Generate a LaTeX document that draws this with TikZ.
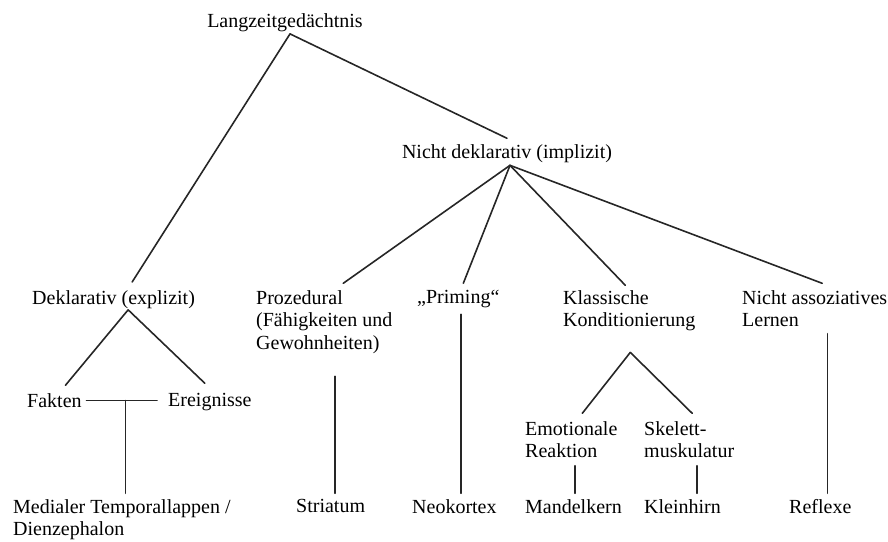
\documentclass[tikz,border=0pt]{standalone}
\usepackage{fontspec}
\setmainfont{Liberation Serif}

\begin{document}
\begin{tikzpicture}[x=1pt, y=-1pt,
    lbl/.style={font=\fontsize{20}{22.5}\selectfont, inner sep=0pt, anchor=north west, align=left},
    lnk/.style={line width=1.6pt, line cap=round, black!85}]
    \useasboundingbox (0,0) rectangle (888,541);

    % Top levels
    \node[lbl, anchor=north] (lang) at (285,13.3) {Langzeitgedächtnis};
    \node[lbl, anchor=north] (nd) at (507,144.3) {Nicht deklarativ (implizit)};

    % Second row
    \node[lbl] (dekl) at (32,290.3) {Deklarativ (explizit)};
    \node[lbl] (proz) at (256,290.3) {Prozedural\\(Fähigkeiten und\\Gewohnheiten)};
    \node[lbl] (prim) at (417,290.3) {„Priming“};
    \node[lbl] (klass) at (563,290.3) {Klassische\\Konditionierung};
    \node[lbl] (nass) at (742,290.3) {Nicht assoziatives\\Lernen};

    % Third row
    \node[lbl] (fakten) at (27,393.3) {Fakten};
    \node[lbl] (ereig) at (168,393.3) {Ereignisse};
    \node[lbl] (emot) at (525,421.3) {Emotionale\\Reaktion};
    \node[lbl] (skel) at (644,421.3) {Skelett-\\muskulatur};

    % Brain regions
    \node[lbl] (medial) at (13,499.3) {Medialer Temporallappen /\\Dienzephalon};
    \node[lbl] (striat) at (296,499.3) {Striatum};
    \node[lbl] (neok) at (412,499.3) {Neokortex};
    \node[lbl] (mandel) at (525,499.3) {Mandelkern};
    \node[lbl] (klein) at (644,499.3) {Kleinhirn};
    \node[lbl] (refl) at (789,499.3) {Reflexe};

    % Branches
    \coordinate (lang-foot) at ([xshift=5pt,yshift=-2pt]lang.south);
    \draw[lnk] (lang-foot) -- ([xshift=18.6pt,yshift=8.3pt]dekl.north);
    \draw[lnk] (lang-foot) -- ([yshift=6pt]nd.north);

    \coordinate (dekl-foot) at ([xshift=14.6pt,yshift=-1pt]dekl.south);
    \draw[lnk] (dekl-foot) -- ([xshift=11pt,yshift=8pt]fakten.north);
    \draw[lnk] (dekl-foot) -- ([xshift=-5pt,yshift=10pt]ereig.north);

    \coordinate (nd-foot) at ([xshift=3pt,yshift=-2.5pt]nd.south);
    \draw[lnk] (nd-foot) -- ([xshift=19pt,yshift=7pt]proz.north);
    \draw[lnk] (nd-foot) -- ([xshift=5pt,yshift=7pt]prim.north);
    \draw[lnk] (nd-foot) -- ([xshift=-4pt,yshift=5pt]klass.north);
    \draw[lnk] (nd-foot) -- ([xshift=7.5pt,yshift=7pt]nass.north);

    \coordinate (klass-foot) at ([xshift=1pt,yshift=-21pt]klass.south);
    \draw[lnk] (klass-foot) -- ([xshift=11pt,yshift=8pt]emot.north);
    \draw[lnk] (klass-foot) -- ([xshift=3pt,yshift=8pt]skel.north);

    % Fakten -- Ereignisse
    \draw[lnk] ([xshift=4.6pt]fakten.east) -- ([xshift=-11pt]fakten.east -| ereig.west);
    \draw[lnk] ([xshift=3.6pt,yshift=6pt]medial.north) -- ([xshift=3.6pt]medial.north |- fakten.east);

    % Down to the regions
    \draw[lnk] ([xshift=4.5pt,yshift=-22.5pt]striat.north |- proz.south) -- ([xshift=4.5pt,yshift=6pt]striat.north);
    \draw[lnk] ([xshift=6.8pt,yshift=-6pt]neok.north |- prim.south) -- ([xshift=6.8pt,yshift=6pt]neok.north);
    \draw[lnk] ([xshift=1.7pt,yshift=-7.5pt]mandel.north |- emot.south) -- ([xshift=1.7pt,yshift=6pt]mandel.north);
    \draw[lnk] ([xshift=14.7pt,yshift=-7.5pt]klein.north |- skel.south) -- ([xshift=14.7pt,yshift=6pt]klein.north);
    \draw[lnk] ([xshift=7pt,yshift=-6.5pt]refl.north |- nass.south) -- ([xshift=7pt,yshift=6pt]refl.north);
\end{tikzpicture}
\end{document}
